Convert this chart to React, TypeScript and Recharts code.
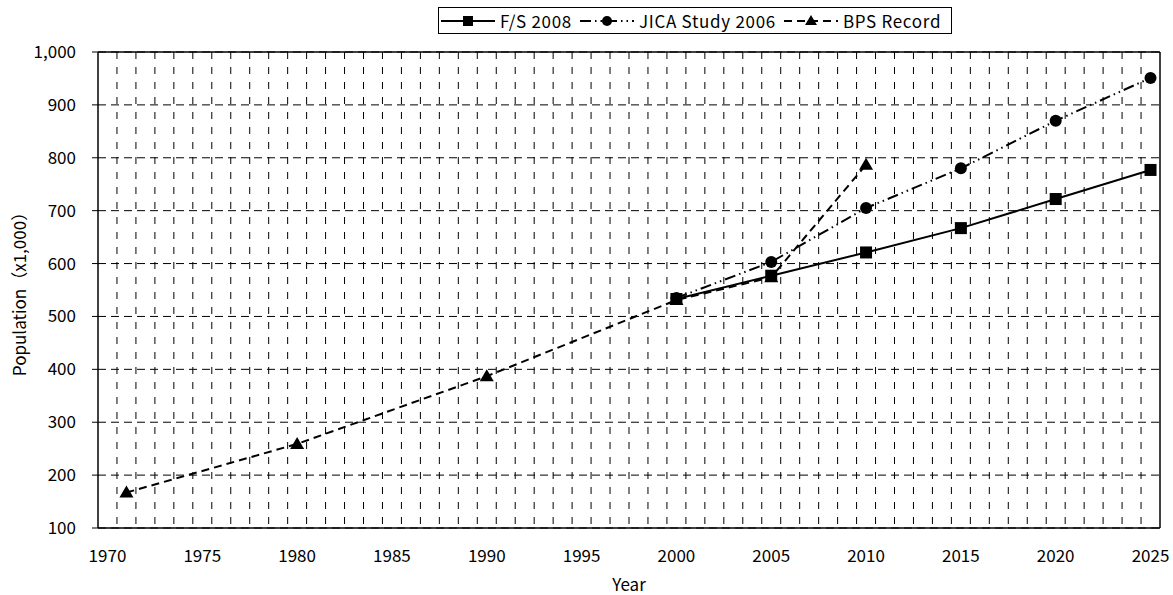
import React from 'react';
import { LineChart, Line, XAxis, YAxis, CartesianGrid, ReferenceLine, Label } from 'recharts';

// F/S 2008 projection
const fsYears = [2000, 2005, 2010, 2015, 2020, 2025];
const fsValues = [533, 577, 621, 667, 722, 777];

// JICA Study 2006 projection
const jicaYears = [2000, 2005, 2010, 2015, 2020, 2025];
const jicaValues = [535, 603, 705, 780, 870, 951];

// BPS census record
const bpsYears = [1971, 1980, 1990, 2000, 2005, 2010];
const bpsValues = [167, 259, 387, 531, 574, 787];

const xTicks = [1970, 1975, 1980, 1985, 1990, 1995, 2000, 2005, 2010, 2015, 2020, 2025];
const yTicks = [100, 200, 300, 400, 500, 600, 700, 800, 900, 1000];

const X_DOMAIN = [1969.5, 2025.5];
const FONT = '"Noto Sans CJK JP", "Noto Sans", sans-serif';
const FS = 17;

const toPoints = (years: number[], values: number[]) =>
  years.map((year, i) => ({ year, value: values[i] }));

const fsData = toPoints(fsYears, fsValues);
const jicaData = toPoints(jicaYears, jicaValues);
const bpsData = toPoints(bpsYears, bpsValues);

// category boundaries (Excel-style "between tick marks")
const yearGrid = Array.from({ length: 55 }, (_, i) => 1970.5 + i);

type Shape = 'square' | 'circle' | 'triangle';

const Marker = ({ cx, cy, shape, size = 6 }: { cx: number; cy: number; shape: Shape; size?: number }) => {
  if (cx == null || cy == null) return null;
  if (shape === 'square')
    return <rect x={cx - size} y={cy - size} width={size * 2} height={size * 2} fill="#000" />;
  if (shape === 'circle') return <circle cx={cx} cy={cy} r={size} fill="#000" />;
  return (
    <polygon
      points={`${cx},${cy - size - 1} ${cx - size - 1},${cy + size - 1} ${cx + size + 1},${cy + size - 1}`}
      fill="#000"
    />
  );
};

const series = [
  { name: 'F/S 2008', data: fsData, shape: 'square' as Shape, dash: undefined },
  { name: 'JICA Study 2006', data: jicaData, shape: 'circle' as Shape, dash: '11 4 1.5 4 1.5 4' },
  { name: 'BPS Record', data: bpsData, shape: 'triangle' as Shape, dash: '8 5' },
];

const LegendBox = () => (
  <div
    style={{
      position: 'absolute',
      left: 438,
      top: 7,
      height: 25,
      border: '1px solid #000',
      display: 'flex',
      alignItems: 'center',
      paddingLeft: 2,
      paddingRight: 2,
      fontFamily: FONT,
      fontSize: FS,
      letterSpacing: 0.7,
      background: '#fff',
      whiteSpace: 'nowrap',
    }}
  >
    {series.map((s, i) => (
      <div key={s.name} style={{ display: 'flex', alignItems: 'center' }}>
        <svg width={54} height={16} style={{ marginRight: 5 }}>
          <line x1={0} y1={8} x2={54} y2={8} stroke="#000" strokeWidth={2} strokeDasharray={s.dash} />
          <Marker cx={27} cy={8} shape={s.shape} size={5} />
        </svg>
        <span style={{ marginRight: i < series.length - 1 ? 8 : 8 }}>{s.name}</span>
      </div>
    ))}
  </div>
);

export default function App() {
  return (
    <div style={{ position: 'absolute', left: 0, top: 0, width: 1173, height: 595 }}>
      <LineChart width={1173} height={595} margin={{ top: 52, right: 13, left: 0, bottom: 27 }}>
        <CartesianGrid
          horizontal={false}
          verticalCoordinatesGenerator={({ xAxis, offset }: any) =>
            yearGrid.map((v) =>
              xAxis && typeof xAxis.scale === 'function'
                ? xAxis.scale(v)
                : offset.left + ((v - X_DOMAIN[0]) / (X_DOMAIN[1] - X_DOMAIN[0])) * offset.width
            )
          }
          stroke="#000"
          strokeDasharray="7 8"
        />
        <CartesianGrid vertical={false} stroke="#000" strokeDasharray="8 5" />
        <XAxis
          type="number"
          dataKey="year"
          domain={X_DOMAIN}
          ticks={xTicks}
          allowDataOverflow
          tickLine={false}
          tickMargin={16}
          axisLine={{ stroke: '#000', strokeWidth: 1.5 }}
          tick={{ fontSize: FS, fill: '#000', fontFamily: FONT }}
          height={40}
        >
          <Label
            content={() => (
              <text x={629} y={583} textAnchor="middle" dominantBaseline="central" fontSize={FS} fontFamily={FONT} fill="#000">
                Year
              </text>
            )}
          />
        </XAxis>
        <YAxis
          type="number"
          domain={[100, 1000]}
          ticks={yTicks}
          width={98}
          tickSize={6}
          tickMargin={16}
          tickFormatter={(v: number) => v.toLocaleString('en-US')}
          tickLine={{ stroke: '#000' }}
          axisLine={{ stroke: '#000', strokeWidth: 1.5 }}
          tick={{ fontSize: FS, fill: '#000', fontFamily: FONT }}
        >
          <Label
            content={() => (
              <text
                x={18}
                y={290}
                transform="rotate(-90, 18, 290)"
                textAnchor="middle"
                dominantBaseline="central"
                fontSize={FS}
                fontFamily={FONT}
                fill="#000"
              >
                Population（x1,000）
              </text>
            )}
          />
        </YAxis>
        <ReferenceLine y={1000} stroke="#000" strokeWidth={1.5} />
        <ReferenceLine x={2025.5} stroke="#000" strokeWidth={1.5} />
        {series.map((s) => (
          <Line
            key={s.name}
            data={s.data}
            dataKey="value"
            name={s.name}
            stroke="#000"
            strokeWidth={2}
            strokeDasharray={s.dash}
            isAnimationActive={false}
            activeDot={false}
            dot={(p: any) => <Marker key={`${s.name}-${p.index}`} cx={p.cx} cy={p.cy} shape={s.shape} />}
          />
        ))}
      </LineChart>
      <LegendBox />
    </div>
  );
}
